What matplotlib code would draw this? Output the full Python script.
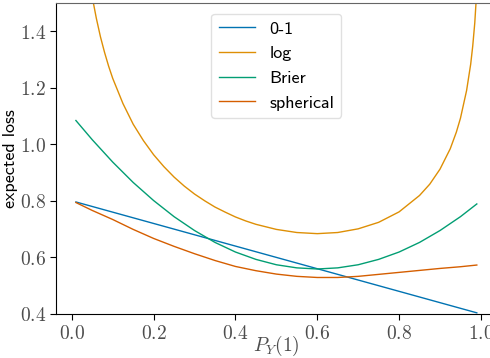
import matplotlib
matplotlib.use("agg")
import matplotlib.pyplot as plt
from matplotlib.ticker import FuncFormatter

plt.rcParams['mathtext.fontset'] = 'cm'

# values
p_01 = [0.01, 0.25, 0.50, 0.75, 0.99]
loss_01 = [0.796, 0.700, 0.600, 0.500, 0.404]

p_log = [0.01, 0.02, 0.03, 0.04, 0.052, 0.06, 0.07, 0.08, 0.09, 0.10, 0.125, 0.15,
         0.175, 0.20, 0.225, 0.25, 0.275, 0.30, 0.325, 0.35, 0.375, 0.40, 0.425,
         0.45, 0.50, 0.55, 0.60, 0.65, 0.70, 0.75, 0.80, 0.85, 0.875, 0.90, 0.925,
         0.94, 0.95, 0.965, 0.975, 0.98, 0.985, 0.99]
loss_log = [2.216, 1.915, 1.740, 1.617, 1.505, 1.445, 1.380, 1.325, 1.276, 1.233, 1.144, 1.071,
            1.013, 0.963, 0.921, 0.884, 0.852, 0.824, 0.800, 0.778, 0.760, 0.743, 0.729,
            0.717, 0.699, 0.688, 0.684, 0.688, 0.701, 0.724, 0.761, 0.819, 0.859, 0.912, 0.984,
            1.043, 1.092, 1.190, 1.283, 1.347, 1.429, 1.546]

p_grid = [0.01, 0.05, 0.10, 0.15, 0.20, 0.25, 0.30, 0.35, 0.40, 0.45, 0.50,
          0.55, 0.60, 0.65, 0.70, 0.75, 0.80, 0.85, 0.90, 0.95, 0.99]
loss_brier = [1.084, 1.016, 0.937, 0.865, 0.801, 0.744, 0.695, 0.653, 0.619, 0.593, 0.574,
              0.563, 0.559, 0.563, 0.574, 0.593, 0.619, 0.653, 0.695, 0.744, 0.789]
loss_sph = [0.794, 0.766, 0.734, 0.699, 0.667, 0.639, 0.613, 0.589, 0.568, 0.553, 0.541,
            0.533, 0.529, 0.529, 0.533, 0.540, 0.547, 0.554, 0.561, 0.567, 0.573]

fig = plt.figure(figsize=(4.9, 3.58), dpi=100)
ax = fig.add_axes([0.114, 0.123, 0.9, 0.869])

ax.plot(p_01, loss_01, color='#0173b2', lw=1.0, label='0-1')
ax.plot(p_log, loss_log, color='#de8f05', lw=1.0, label='log')
ax.plot(p_grid, loss_brier, color='#029e73', lw=1.0, label='Brier')
ax.plot(p_grid, loss_sph, color='#d55e00', lw=1.0, label='spherical')

ax.set_xlim(-0.039, 1.039)
ax.set_ylim(0.4, 1.5)
ax.set_xticks([0.0, 0.2, 0.4, 0.6, 0.8, 1.0])
ax.set_yticks([0.4, 0.6, 0.8, 1.0, 1.2, 1.4])
fmt = FuncFormatter(lambda v, pos: '${:.1f}$'.format(v))
ax.xaxis.set_major_formatter(fmt)
ax.yaxis.set_major_formatter(fmt)
ax.tick_params(labelsize=14, direction='out', length=4, colors='black',
               labelcolor='0.3', pad=3)

ax.set_xlabel('$P_Y(1)$', fontsize=14, color='0.3', labelpad=-6.5)
ax.set_ylabel('expected loss', fontsize=13, family='cmss10', labelpad=1)

ax.spines['top'].set_color('0.4')
ax.spines['right'].set_color('0.4')

leg = ax.legend(loc='upper center', prop={'family': 'cmss10', 'size': 13},
                frameon=True, fancybox=True, framealpha=0.8, edgecolor='0.85',
                handlelength=2.0, borderaxespad=0.6)

fig.savefig('out.png', dpi=100)
